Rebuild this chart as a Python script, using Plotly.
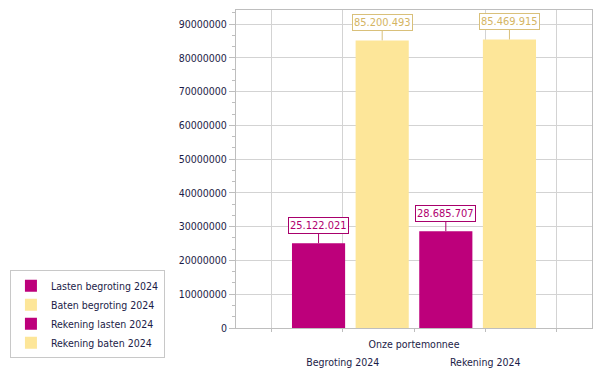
import plotly.graph_objects as go

# ---- data ----
category = ["Onze portemonnee"]
series_names = ["Lasten begroting 2024", "Baten begroting 2024",
                "Rekening lasten 2024", "Rekening baten 2024"]
series_values = [25122021, 85200493, 28685707, 85469915]
group_labels = ["Begroting 2024", "Rekening 2024"]

# ---- styles ----
MAGENTA = "#BD007B"
YELLOW = "#FDE699"
colors = [MAGENTA, YELLOW, MAGENTA, YELLOW]
label_text = ["#B0006F", "#D4B563", "#B0006F", "#D4B563"]
label_border = ["#A8006C", "#D9C07A", "#A8006C", "#D9C07A"]
FONT = "DejaVu Sans Condensed, DejaVu Sans, sans-serif"
TXT = "#1C1C48"
GRID = "#D3D3D3"
LINE = "#BEBEBE"

BARGAP = 0.285
BARGROUPGAP = 0.165

def fmt(v):
    return f"{v:,}".replace(",", ".")

fig = go.Figure()
for name, val, col in zip(series_names, series_values, colors):
    fig.add_trace(go.Bar(x=category, y=[val], name=name, marker_color=col,
                         marker_line_width=0, hoverinfo="skip"))

# invisible trace to activate the overlay axis
fig.add_trace(go.Scatter(x=[None], y=[None], xaxis="x2", showlegend=False,
                         hoverinfo="skip"))

n = len(series_values)
slot = (1 - BARGAP) / n
annotations = []
for i, (val, tc, bc) in enumerate(zip(series_values, label_text, label_border)):
    xc = -(1 - BARGAP) / 2 + slot * (i + 0.5)
    annotations.append(dict(
        x=xc, y=val, xref="x", yref="y", text=fmt(val),
        showarrow=True, arrowhead=0, arrowwidth=1, arrowcolor=bc,
        ax=0, ay=-18, font=dict(family=FONT, size=11, color=tc),
        bgcolor="white", bordercolor=bc, borderwidth=1, borderpad=1,
    ))

# page body has an 8px margin; compensate so the plot lands where intended
fig.update_layout(
    width=602, height=374,
    margin=dict(l=228, r=18, t=2, b=54, autoexpand=False),
    paper_bgcolor="white", plot_bgcolor="white",
    barmode="group", bargap=BARGAP, bargroupgap=BARGROUPGAP,
    font=dict(family=FONT, size=10.5, color=TXT),
    showlegend=True,
    legend=dict(x=-0.635, y=-0.095, xanchor="left", yanchor="bottom",
                bordercolor="#C8C8C8", borderwidth=1, bgcolor="white",
                font=dict(family=FONT, size=10.5, color=TXT),
                tracegroupgap=0, itemwidth=30),
    annotations=annotations,
    xaxis=dict(type="category", range=[-0.5, 0.5], showgrid=False,
               ticks="outside", ticklen=3, tickcolor=LINE,
               showline=True, linecolor=LINE, mirror=True,
               tickfont=dict(family=FONT, size=10.5, color=TXT),
               ticklabelstandoff=3),
    xaxis2=dict(overlaying="x", anchor="y", side="bottom", range=[0.5, 5.5],
                tickvals=[1, 2, 4, 5],
                ticktext=["", group_labels[0], group_labels[1], ""],
                showgrid=True, gridcolor=GRID, gridwidth=1,
                ticks="outside", ticklen=3, tickcolor=LINE,
                showline=False, zeroline=False,
                tickfont=dict(family=FONT, size=10.5, color=TXT),
                ticklabelstandoff=21),
    yaxis=dict(range=[0, 94200000], tickmode="linear", tick0=0, dtick=10000000,
               tickformat="d", showgrid=True, gridcolor=GRID,
               ticks="outside", ticklen=6, tickcolor=LINE,
               minor=dict(dtick=10000000 / 3, ticks="outside", ticklen=3,
                          tickcolor=LINE, showgrid=False),
               showline=True, linecolor=LINE, mirror=True, zeroline=False,
               tickfont=dict(family=FONT, size=10.5, color=TXT)),
)

fig.write_html("out.html")
